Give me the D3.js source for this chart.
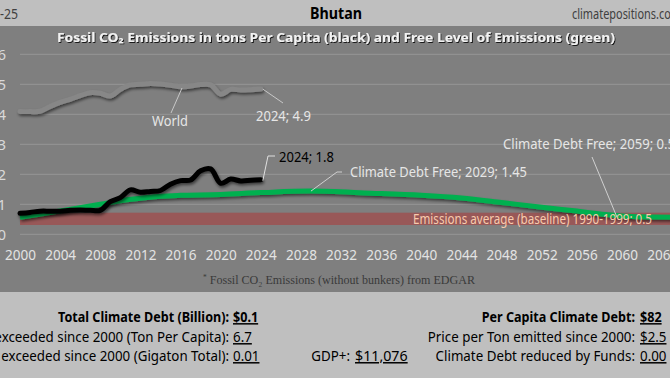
<!DOCTYPE html>
<html><head><meta charset="utf-8">
<script src="https://cdn.jsdelivr.net/npm/d3@7"></script>
<style>
body{margin:0;background:#bfbfbf;overflow:hidden}
svg{display:block;font-family:'Noto Sans',sans-serif}
</style>
</head><body>
<svg id="c" width="670" height="378"></svg>
<script>
// ---------- data ----------
const years = d3.range(2000, 2025);
const bhutan = [0.70,0.73,0.77,0.77,0.77,0.80,0.81,0.80,0.80,1.09,1.22,1.48,1.40,1.43,1.46,1.67,1.79,1.81,2.12,2.18,1.70,1.84,1.78,1.80,1.82];
const world  = [4.09,4.09,4.10,4.26,4.40,4.50,4.62,4.72,4.70,4.61,4.83,4.98,5.00,5.03,5.01,4.97,4.92,4.94,4.99,4.98,4.67,4.83,4.81,4.82,4.84];
const freeYears  = [2000,2004,2008,2010,2012,2014,2016,2020,2024,2029,2035,2040,2044,2048,2052,2055,2058,2061,2066];
const freeValues = [0.57,0.78,1.00,1.12,1.20,1.27,1.30,1.33,1.39,1.44,1.37,1.30,1.21,1.06,0.90,0.79,0.67,0.59,0.57];
const bandRange = [0.31, 0.72];   // baseline band (1990-1999 average 0.5)
const yTicks = [0,1,2,3,4,5,6];
const xTicks = d3.range(2000, 2068, 4);
const statsLeft = [
  ["Total Climate Debt (Billion):", "$0.1", true],
  ["Emissions exceeded since 2000 (Ton Per Capita):", "6.7", false],
  ["Emissions exceeded since 2000 (Gigaton Total):", "0.01", false]
];
const statsRight = [
  ["Per Capita Climate Debt:", "$82", true],
  ["Price per Ton emitted since 2000:", "$2.5", false],
  ["Climate Debt reduced by Funds:", "0.00", false]
];
const gdpLabel = "GDP+:", gdpValue = "$11,076";

// ---------- setup ----------
const svg = d3.select("#c");
const defs = svg.append("defs");
const sh = defs.append("filter").attr("id","sh").attr("x","-10%").attr("y","-50%").attr("width","120%").attr("height","200%");
sh.append("feDropShadow").attr("dx",1).attr("dy",2).attr("stdDeviation",1.4).attr("flood-color","#000").attr("flood-opacity",0.55);
const tsh = defs.append("filter").attr("id","tsh").attr("x","-5%").attr("y","-50%").attr("width","110%").attr("height","200%");
tsh.append("feDropShadow").attr("dx",1).attr("dy",1).attr("stdDeviation",0.6).attr("flood-color","#000").attr("flood-opacity",0.8);

// backgrounds
svg.append("rect").attr("x",0).attr("y",0).attr("width",670).attr("height",378).attr("fill","#bfbfbf");
svg.append("rect").attr("x",0).attr("y",26).attr("width",670).attr("height",266).attr("fill","#7f7f7f");

const x = d3.scaleLinear().domain([2000, 2060]).range([20, 622]);
const y = d3.scaleLinear().domain([0, 6]).range([234.3, 54.3]);

// helper: text fitted to a width
function label(g, str, px, py, o) {
  const t = g.append("text").attr("x", px).attr("y", py).text(str)
    .attr("font-size", o.size || 14).attr("fill", o.fill || "#000")
    .attr("text-anchor", o.anchor || "start");
  if (o.weight) t.attr("font-weight", o.weight);
  if (o.family) t.attr("font-family", o.family);
  if (o.width) t.attr("textLength", o.width).attr("lengthAdjust", "spacingAndGlyphs");
  if (o.sx) {
    t.attr("x", 0).attr("y", 0).attr("transform", `translate(${px},${py}) scale(${o.sx},1)`);
  }
  if (o.filter) t.attr("filter", o.filter);
  return t;
}

// gridlines
svg.append("g").selectAll("line").data(yTicks).join("line")
  .attr("x1", 20).attr("x2", 670).attr("y1", d => y(d)).attr("y2", d => y(d))
  .attr("stroke", "#979797").attr("stroke-width", 1);

// y labels
const yAxis = d3.axisLeft(y).tickValues(yTicks).tickSize(0).tickPadding(0).tickFormat(d3.format("d"));
const ya = svg.append("g").attr("transform","translate(6,0)").call(yAxis);
ya.select(".domain").remove();
ya.selectAll("text").attr("font-size",15).attr("fill","#d9d9d9").attr("font-family","'Noto Sans',sans-serif");

// x labels
const xAxis = d3.axisBottom(x).tickValues(xTicks).tickSize(0).tickPadding(0).tickFormat(d3.format("d"));
const xa = svg.append("g").attr("transform","translate(0,250)").call(xAxis);
xa.select(".domain").remove();
xa.selectAll("text").attr("font-size",14).attr("fill","#e3e3e3").attr("font-family","'Noto Sans',sans-serif")
  .attr("textLength",31).attr("lengthAdjust","spacingAndGlyphs");

// baseline band
svg.append("rect").attr("x", 20).attr("width", 650)
  .attr("y", y(bandRange[1])).attr("height", y(bandRange[0]) - y(bandRange[1]))
  .attr("fill", "#985858");

const line = d3.line().curve(d3.curveCatmullRom.alpha(0.5)).x(d => x(d[0])).y(d => y(d[1]));

// World
svg.append("path").datum(years.map((yr,i)=>[yr, world[i]])).attr("d", line)
  .attr("fill","none").attr("stroke","#878787").attr("stroke-width",5).attr("stroke-linecap","round")
  .attr("filter","url(#sh)");
// Free level (green)
svg.append("path").datum(freeYears.map((yr,i)=>[yr, freeValues[i]])).attr("d", line)
  .attr("fill","none").attr("stroke","#00b050").attr("stroke-width",5)
  .attr("filter","url(#sh)");
// Bhutan
svg.append("path").datum(years.map((yr,i)=>[yr, bhutan[i]])).attr("d", line)
  .attr("fill","none").attr("stroke","#000").attr("stroke-width",5).attr("stroke-linecap","round")
  .attr("filter","url(#sh)");

// baseline label
label(svg, "Emissions average (baseline) 1990-1999; 0.5", 413, 224, {size:14, fill:"#f8cbad", width:239});

// annotations
const ann = svg.append("g");
const lastYr = years[years.length-1];
// World
ann.append("path").attr("d", `M182,88 L171,113`).attr("stroke","#c8c8c8").attr("fill","none");
label(ann, "World", 152, 126, {size:14, fill:"#e6e6e6", width:36});
ann.append("path").attr("d", `M${x(lastYr)+2},${y(world[world.length-1])} L283,103`).attr("stroke","#c8c8c8").attr("fill","none");
label(ann, "2024; 4.9", 256, 121, {size:14, fill:"#e6e6e6", width:55});
// Bhutan
ann.append("path").attr("d", `M${x(lastYr)+2},${y(bhutan[bhutan.length-1])+1} L268,156 L275,156`).attr("stroke","#e0e0e0").attr("fill","none");
label(ann, "2024; 1.8", 279, 162, {size:14, fill:"#000", width:55});
// Climate debt free 2029
ann.append("path").attr("d", `M${x(2029)},${y(1.44)} L337,172 L342,172`).attr("stroke","#d0d0d0").attr("fill","none");
label(ann, "Climate Debt Free; 2029; 1.45", 350, 177, {size:14, fill:"#e6e6e6", width:177});
// Climate debt free 2059
ann.append("path").attr("d", `M592,157 L${x(2059.5)},${y(0.57)}`).attr("stroke","#d0d0d0").attr("fill","none");
label(ann, "Climate Debt Free; 2059; 0.5", 503, 149, {size:14, fill:"#e6e6e6", width:172});

// title & header
label(svg, "Fossil CO₂ Emissions in tons Per Capita (black) and Free Level of Emissions (green)", 57, 42,
  {size:12.5, weight:"bold", fill:"#f2f2f2", width:558, filter:"url(#tsh)"});
label(svg, "-25", 0, 19, {size:14, fill:"#404040", width:18});
label(svg, "Bhutan", 310, 19, {size:16, weight:"bold", fill:"#000", width:52});
label(svg, "climatepositions.com", 572, 19, {size:14, fill:"#404040", width:109});

// footnote
const fn = svg.append("text").attr("x", 203).attr("y", 284).attr("font-family","'Liberation Serif',serif")
  .attr("font-size",13).attr("fill","#3a3a3a").attr("textLength",272).attr("lengthAdjust","spacingAndGlyphs");
fn.append("tspan").attr("font-size",8).attr("dy",-4).text("*");
fn.append("tspan").attr("dy",4).text(" Fossil CO₂ Emissions (without bunkers) from EDGAR");

// stats
const statY = [322, 342, 361];
const stats = svg.append("g");
const sxB = 0.84, sxN = 0.89;
statsLeft.forEach((s,i) => {
  label(stats, s[0], 229, statY[i], {size:15, weight: s[2] ? "bold" : null, fill:"#000", anchor:"end", sx: s[2] ? sxB : sxN});
  label(stats, s[1], 233, statY[i], {size:15, weight: s[2] ? "bold" : null, fill:"#000", sx: s[2] ? sxB : sxN})
    .attr("text-decoration","underline");
});
statsRight.forEach((s,i) => {
  label(stats, s[0], 635, statY[i], {size:15, weight: s[2] ? "bold" : null, fill:"#000", anchor:"end", sx: s[2] ? sxB : sxN});
  label(stats, s[1], 640, statY[i], {size:15, weight: s[2] ? "bold" : null, fill:"#000", sx: s[2] ? sxB : sxN})
    .attr("text-decoration","underline");
});
label(stats, gdpLabel, 350, statY[2], {size:15, fill:"#000", anchor:"end", sx:sxN});
label(stats, gdpValue, 355, statY[2], {size:15, fill:"#000", sx:0.95}).attr("text-decoration","underline");
</script>
</body></html>
